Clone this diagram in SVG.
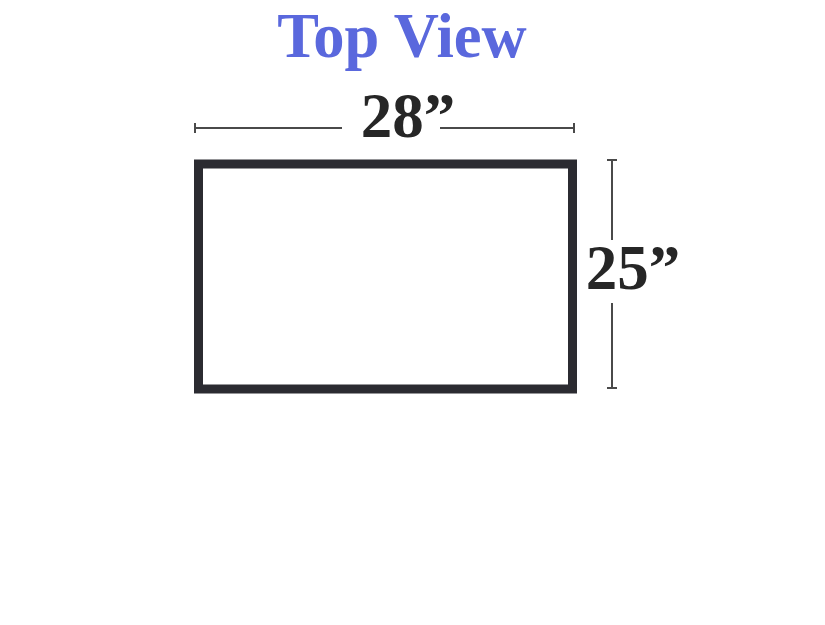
<svg xmlns="http://www.w3.org/2000/svg" width="825" height="625" viewBox="0 0 825 625">
<style>
.dim{stroke:#4a4a4a;stroke-width:2;fill:none}
.lbl{font-family:"Liberation Serif",serif;font-weight:bold;font-size:63px;fill:#262626}
.title{font-family:"Liberation Serif",serif;font-weight:bold;font-size:62.5px;fill:#5a68dd}
</style>
<rect width="825" height="625" fill="#ffffff"/>
<text class="title" x="402" y="57" text-anchor="middle">Top View</text>
<g id="table">
<rect x="198.5" y="164" width="374" height="225" fill="#ffffff" stroke="#2b2b31" stroke-width="9"/>
</g>
<g id="connectors">
<line class="dim" x1="195" y1="128" x2="342" y2="128"/>
<line class="dim" x1="440" y1="128" x2="574" y2="128"/>
<line class="dim" x1="195" y1="123" x2="195" y2="133"/>
<line class="dim" x1="574" y1="123" x2="574" y2="133"/>
<line class="dim" x1="612" y1="160" x2="612" y2="240"/>
<line class="dim" x1="612" y1="303" x2="612" y2="388"/>
<line class="dim" x1="607" y1="160" x2="617" y2="160"/>
<line class="dim" x1="607" y1="388" x2="617" y2="388"/>
</g>
<g id="width-label"><text class="lbl" x="408" y="137" text-anchor="middle">28”</text></g>
<g id="depth-label"><text class="lbl" x="633" y="289" text-anchor="middle">25”</text></g>
</svg>
